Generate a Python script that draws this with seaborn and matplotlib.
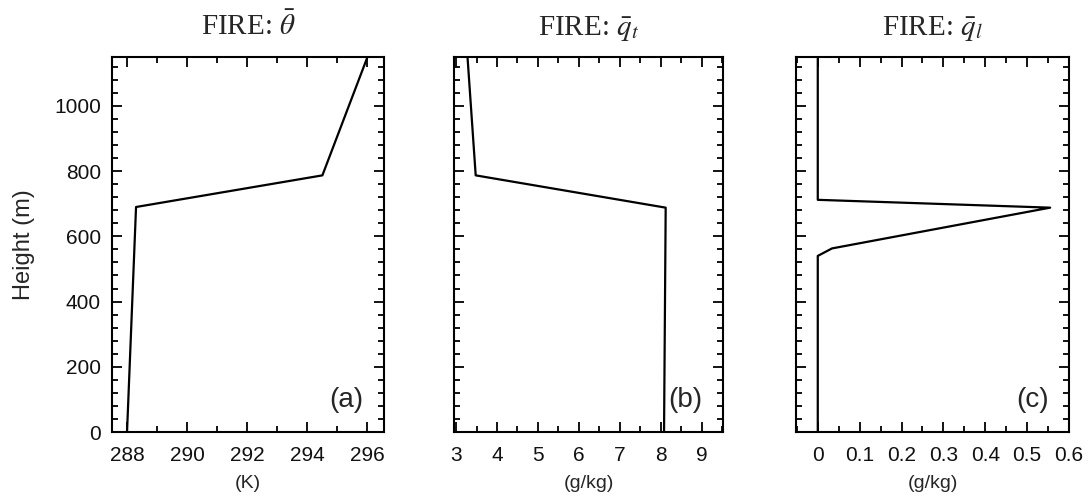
import matplotlib
matplotlib.use("Agg")
import matplotlib.pyplot as plt
import seaborn as sns
import pandas as pd
from matplotlib.ticker import MultipleLocator

# ---- data ----
theta_z = [0, 690, 787, 1150]
theta = [288.0, 288.3, 294.5, 296.0]

qt_z = [0, 688, 787, 1150]
qt = [8.08, 8.12, 3.48, 3.28]

ql_z = [0, 540, 563, 688, 712, 1150]
ql = [0.0, 0.0, 0.034, 0.555, 0.0, 0.0]

titles = [r"FIRE: $\bar{\theta}$", r"FIRE: $\bar{q}_t$", r"FIRE: $\bar{q}_l$"]
xlabels = ["(K)", "(g/kg)", "(g/kg)"]
panel_tags = ["(a)", "(b)", "(c)"]

sns.set_style("ticks")
plt.rcParams["font.family"] = ["Liberation Sans", "DejaVu Sans"]
plt.rcParams["mathtext.fontset"] = "stix"

fig = plt.figure(figsize=(10.89, 5.03), dpi=100)
W, H = 1089, 503
boxes = [(112, 384), (454, 723), (796, 1069)]
top_px, bot_px = 57, 432

series = [
    pd.DataFrame({"x": theta, "z": theta_z}),
    pd.DataFrame({"x": qt, "z": qt_z}),
    pd.DataFrame({"x": ql, "z": ql_z}),
]
xlims = [(287.5, 296.55), (2.95, 9.52), (-0.052, 0.6)]
xmajor = [2, 1, 0.1]
xminor = [1, 0.5, 0.05]

for i, (l, r) in enumerate(boxes):
    ax = fig.add_axes([l / W, 1 - bot_px / H, (r - l) / W, (bot_px - top_px) / H])
    sns.lineplot(data=series[i], x="x", y="z", sort=False, estimator=None,
                 color="black", lw=1.6, ax=ax)
    ax.set_xlim(*xlims[i])
    ax.set_ylim(0, 1150)
    ax.xaxis.set_major_locator(MultipleLocator(xmajor[i]))
    ax.xaxis.set_minor_locator(MultipleLocator(xminor[i]))
    ax.yaxis.set_major_locator(MultipleLocator(200))
    ax.yaxis.set_minor_locator(MultipleLocator(40))
    ax.tick_params(which="both", direction="in", top=True, right=True,
                   width=1.3, color="black", labelsize=15, labelcolor="#111111")
    ax.tick_params(which="major", length=7)
    ax.tick_params(axis="x", which="major", pad=10)
    ax.tick_params(axis="y", which="major", pad=8)
    ax.tick_params(which="minor", length=4)
    for s in ax.spines.values():
        s.set_linewidth(1.5)
        s.set_color("black")
    if i == 2:
        ax.set_xticks([0, 0.1, 0.2, 0.3, 0.4, 0.5, 0.6])
        ax.set_xticklabels(["0", "0.1", "0.2", "0.3", "0.4", "0.5", "0.6"])
    ax.set_xlabel(xlabels[i], fontsize=14, labelpad=7)
    if i == 0:
        ax.set_ylabel("Height (m)", fontsize=17, labelpad=14)
    else:
        ax.set_ylabel("")
        ax.set_yticklabels([])
    ax.set_title(titles[i], fontsize=21, family=["Liberation Serif", "DejaVu Serif"], pad=16)
    ax.text(0.925, 0.05, panel_tags[i], transform=ax.transAxes, ha="right", va="bottom",
            fontsize=20)

fig.savefig("out.png", dpi=100, facecolor="white")
